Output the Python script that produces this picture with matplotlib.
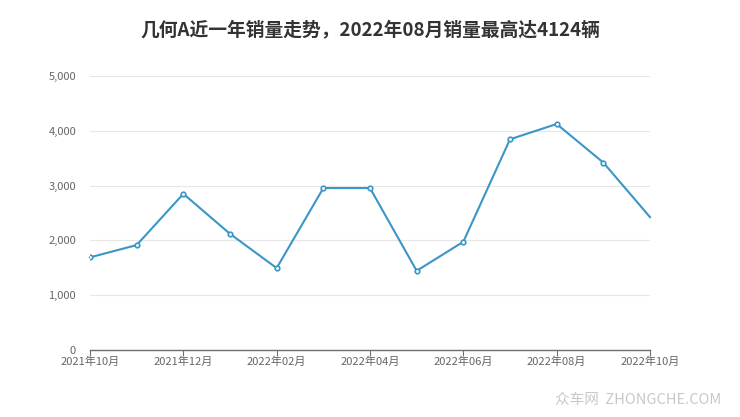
import matplotlib
matplotlib.use("Agg")
import matplotlib.pyplot as plt

plt.rcParams["font.family"] = ["Noto Sans CJK SC", "DejaVu Sans"]

# --------------------------------------------------------------------------- #
#  Data
# --------------------------------------------------------------------------- #
months = ["2021年10月", "2021年11月", "2021年12月", "2022年01月", "2022年02月",
          "2022年03月", "2022年04月", "2022年05月", "2022年06月", "2022年07月",
          "2022年08月", "2022年09月", "2022年10月"]
sales = [1690, 1915, 2850, 2120, 1495, 2955, 2955, 1445, 1975, 3845, 4124, 3420, 2425]
y_ticks = [0, 1000, 2000, 3000, 4000, 5000]
title = "几何A近一年销量走势，2022年08月销量最高达4124辆"

LINE = "#3a96c8"

fig = plt.figure(figsize=(7.4, 4.17), dpi=100)
ax = fig.add_axes([90 / 740, 1 - 350 / 417, 560 / 740, 274 / 417])

x = list(range(len(months)))
ax.plot(x, sales, color=LINE, linewidth=1.5, zorder=3, clip_on=False)
ax.plot(x[:-1], sales[:-1], linestyle="none", marker="o", markersize=3.3,
        markerfacecolor="white", markeredgecolor=LINE, markeredgewidth=1.2, zorder=4)

ax.set_xlim(0, len(months) - 1)
ax.set_ylim(0, 5000)
ax.set_yticks(y_ticks)
ax.set_yticklabels([f"{v:,}" for v in y_ticks])
ax.set_xticks(x[::2])
ax.set_xticklabels(months[::2])

ax.grid(axis="y", color="#e6e6e6", linewidth=0.8)
ax.set_axisbelow(True)
for side in ("top", "right", "left"):
    ax.spines[side].set_visible(False)
ax.spines["bottom"].set_color("#6e6e6e")
ax.spines["bottom"].set_linewidth(1.0)
ax.tick_params(axis="y", length=0, pad=10, labelsize=8, labelcolor="#666666")
ax.tick_params(axis="x", length=4, color="#6e6e6e", pad=1, labelsize=8,
               labelcolor="#666666")

fig.text(0.5, 1 - 30 / 417, title, ha="center", va="center", fontsize=13.5,
         fontweight="bold", color="#333333")
fig.text(0.975, 1 - 400 / 417, "众车网  ZHONGCHE.COM", ha="right", va="center",
         fontsize=10.5, color="#c8c8c8")

fig.savefig("out.png", dpi=100)
